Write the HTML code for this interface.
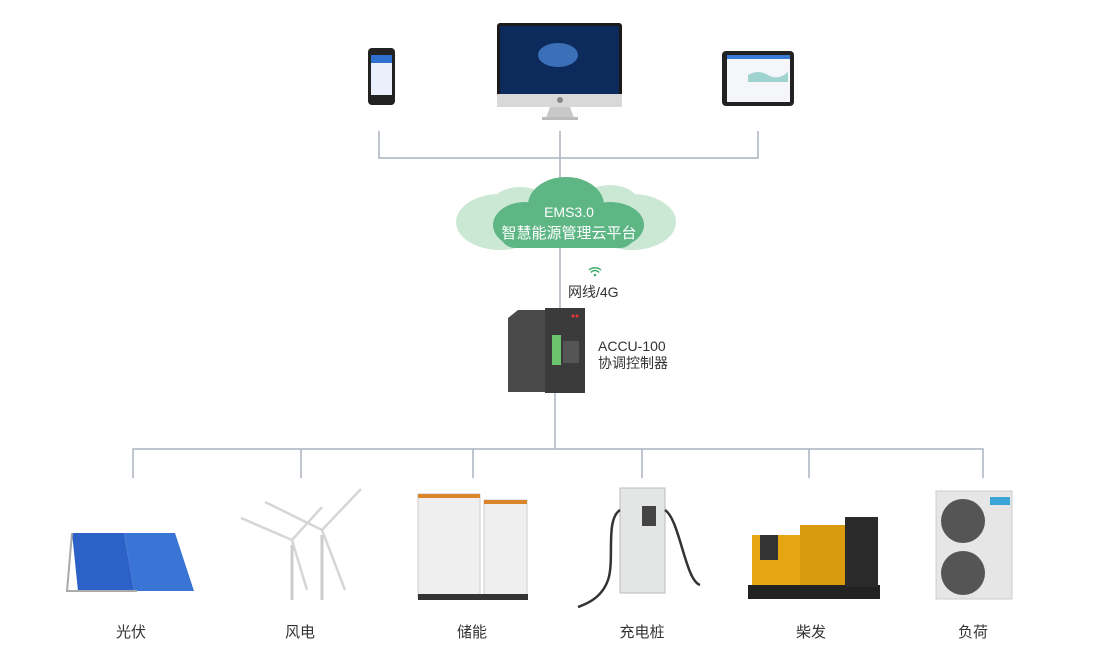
<!DOCTYPE html>
<html><head><meta charset="utf-8"><style>
html,body{margin:0;padding:0;background:#fff;}
svg text{font-family:"Liberation Sans","Noto Sans CJK SC",sans-serif;}
</style></head><body>
<svg width="1102" height="664" viewBox="0 0 1102 664" xmlns="http://www.w3.org/2000/svg">
<g stroke="#aab3bf" stroke-width="1.5" fill="none">
<path d="M379 131V158H758V131M560 131V185M560 248V310M555 392V449M133 478V449H983V478M301 449V478M473 449V478M642 449V478M809 449V478"/>
</g>
<!-- phone -->
<rect x="368" y="48" width="27" height="57" rx="4" fill="#222"/>
<rect x="371" y="55" width="21" height="40" fill="#e9f0fb"/>
<rect x="371" y="55" width="21" height="8" fill="#2f6fd0"/>
<!-- monitor -->
<rect x="497" y="23" width="125" height="84" rx="3" fill="#1a1a1a"/>
<rect x="500" y="26" width="119" height="68" fill="#0c2a5c"/>
<ellipse cx="558" cy="55" rx="20" ry="12" fill="#3b6fb8"/>
<rect x="497" y="94" width="125" height="13" fill="#d8d8d8"/>
<circle cx="560" cy="100" r="3" fill="#888"/>
<path d="M550 107h20l4 11h-28z" fill="#c8c8c8"/>
<rect x="542" y="117" width="36" height="3" fill="#bbb"/>
<!-- tablet -->
<rect x="722" y="51" width="72" height="55" rx="4" fill="#222"/>
<rect x="727" y="55" width="63" height="47" fill="#f4f6fa"/>
<path d="M748 75q10-6 20 0t20-3v10h-40z" fill="#9fd3d0"/>
<rect x="727" y="55" width="63" height="4" fill="#3a7bd5"/>
<!-- cloud -->
<g fill="#cbe8d4">
<ellipse cx="500" cy="222" rx="44" ry="28"/><ellipse cx="632" cy="222" rx="44" ry="28"/>
<ellipse cx="610" cy="205" rx="30" ry="20"/><ellipse cx="520" cy="207" rx="30" ry="20"/>
</g>
<g fill="#5fb685">
<ellipse cx="566" cy="205" rx="38" ry="28"/><ellipse cx="525" cy="225" rx="32" ry="23"/>
<ellipse cx="610" cy="225" rx="34" ry="23"/><rect x="500" y="215" width="135" height="33" rx="15"/>
</g>
<text x="569" y="217" font-size="14" fill="#fff" text-anchor="middle">EMS3.0</text>
<text x="569" y="238" font-size="15" fill="#fff" text-anchor="middle">智慧能源管理云平台</text>
<!-- wifi -->
<g fill="none" stroke="#3cae6a" stroke-width="1.5"><path d="M589 270a9 9 0 0 1 12 0M591 272.5a5 5 0 0 1 8 0"/></g>
<circle cx="595" cy="275" r="1.3" fill="#3cae6a"/>
<text x="568" y="297" font-size="14" fill="#333">网线/4G</text>
<!-- controller -->
<path d="M508 318l10-8h28v82h-38z" fill="#4a4a4a"/>
<rect x="545" y="308" width="40" height="85" fill="#3b3b3b"/>
<rect x="552" y="335" width="9" height="30" fill="#6bc46b"/>
<rect x="563" y="341" width="16" height="22" fill="#555"/>
<circle cx="573" cy="316" r="1.5" fill="#e33"/><circle cx="577" cy="316" r="1.5" fill="#e33"/>
<text x="598" y="351" font-size="14" fill="#333">ACCU-100</text>
<text x="598" y="368" font-size="14" fill="#333">协调控制器</text>
<!-- solar -->
<path d="M72 533h52l10 58h-56z" fill="#2c62c8"/>
<path d="M124 533h51l19 58h-60z" fill="#3a74d4"/>
<path d="M72 533l-5 58h10M67 591h70" stroke="#aaa" stroke-width="2" fill="none"/>
<!-- wind -->
<g stroke="#ccc" stroke-width="3" fill="none">
<path d="M292 545V600M322 535V600"/>
</g>
<g stroke="#d6d6d6" stroke-width="2.5" fill="none">
<path d="M292 540L241 518M292 540L322 507M292 540L307 590M322 530L265 502M322 530L361 489M322 530L345 590"/>
</g>
<!-- storage -->
<rect x="418" y="494" width="62" height="104" fill="#efefef" stroke="#ccc"/>
<rect x="418" y="494" width="62" height="4" fill="#d9862a"/>
<rect x="484" y="500" width="43" height="97" fill="#efefef" stroke="#ccc"/>
<rect x="484" y="500" width="43" height="4" fill="#d9862a"/>
<rect x="418" y="594" width="110" height="6" fill="#333"/>
<!-- charger -->
<rect x="620" y="488" width="45" height="105" fill="#e3e6e5" stroke="#bbb"/>
<rect x="642" y="506" width="14" height="20" fill="#444"/>
<path d="M620 510c-15 10-5 50-12 70s-25 25-30 27M665 510c15 10 20 70 35 75" stroke="#333" stroke-width="2.5" fill="none"/>
<!-- generator -->
<rect x="748" y="585" width="132" height="14" fill="#222"/>
<rect x="752" y="535" width="60" height="50" fill="#e6a612"/>
<rect x="800" y="525" width="50" height="60" fill="#d99a10"/>
<rect x="845" y="517" width="33" height="70" fill="#2a2a2a"/>
<rect x="760" y="535" width="18" height="25" fill="#333"/>
<!-- AC -->
<rect x="936" y="491" width="76" height="108" fill="#e6e6e6" stroke="#ccc"/>
<circle cx="963" cy="521" r="22" fill="#555"/>
<circle cx="963" cy="573" r="22" fill="#555"/>
<rect x="990" y="497" width="20" height="8" fill="#3aa6d8"/>
<g font-size="15" fill="#333" text-anchor="middle">
<text x="131" y="637">光伏</text><text x="300" y="637">风电</text><text x="472" y="637">储能</text>
<text x="642" y="637">充电桩</text><text x="811" y="637">柴发</text><text x="973" y="637">负荷</text>
</g>
</svg>
</body></html>
